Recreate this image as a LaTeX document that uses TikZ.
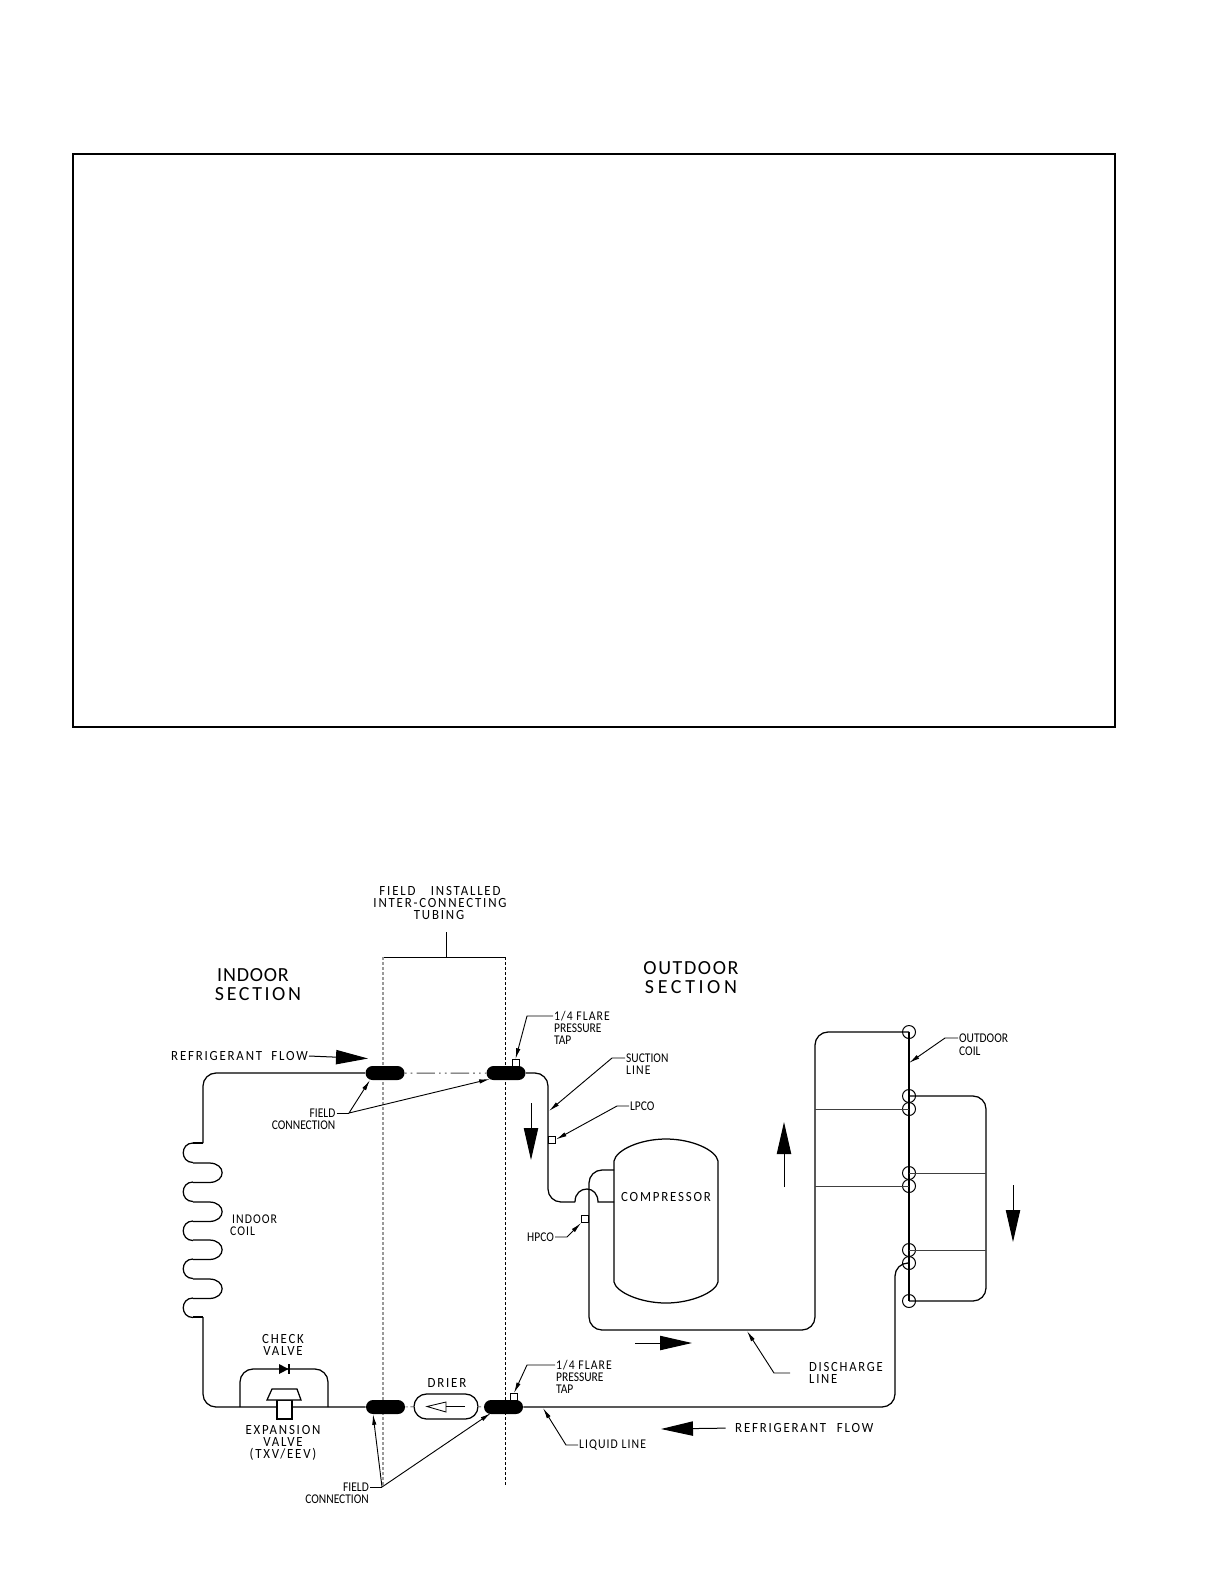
\documentclass[tikz,border=0pt]{standalone}
\usepackage{fontspec}
\setmainfont{Carlito}
\usetikzlibrary{arrows.meta,shapes.misc}
\tikzset{
    pipe/.style={line width=0.75pt},
    branch/.style={line width=0.6pt,black!75},
    lbl/.style={inner sep=0.6pt,font=\fontsize{8.4}{10}\selectfont\addfontfeature{LetterSpace=14},xscale=0.92,transform shape},
    lblmid/.style={inner sep=0.6pt,font=\fontsize{8}{10}\selectfont\addfontfeature{LetterSpace=9},xscale=0.88,transform shape},
    lbltight/.style={inner sep=0.6pt,font=\fontsize{8}{10}\selectfont,xscale=0.86,transform shape},
    lblbig/.style={inner sep=0pt,font=\fontsize{12}{14}\selectfont},
    pill/.style={shape=rounded rectangle,fill=black,inner sep=0pt,minimum width=23.4pt,minimum height=8.4pt},
    tapbox/.style={draw,fill=white,line width=0.5pt,inner sep=0pt,minimum width=4.2pt,minimum height=4.2pt},
    ring/.style={draw,circle,line width=0.6pt,inner sep=0pt,minimum size=7.8pt},
    leader/.style={line width=0.55pt,-{Latex[length=6.5pt,width=2.6pt]}},
    flowtip/.style={line width=0.6pt,-{Triangle[length=19.2pt,width=8.6pt]}}
}
\begin{document}
\begin{tikzpicture}[x=0.6pt,y=-0.6pt]
    \useasboundingbox (0,0) rectangle (1224,1584);
    \draw[line width=1.5pt] (73,154) rectangle (1115,727);

    % field installed tubing
    \node[lbl] (fieldA) at (440,891) {FIELD\hspace{7pt} INSTALLED};
    \node[lbl] (fieldB) at (440,903) {INTER-CONNECTING};
    \node[lbl] (fieldC) at (439,915) {TUBING};
    \draw[line width=0.6pt] (446,932) -- (446,957);
    \draw[line width=0.6pt] (383,957) -- (505,957);
    \draw[gray!80,line width=0.7pt,dash pattern=on 1.5pt off 1.5pt] (383,957) -- (383,1485);
    \draw[line width=0.6pt,dash pattern=on 1.5pt off 1.5pt] (505,957) -- (505,1485);

    \node[lblbig] (indoorA) at (253,975) {\addfontfeature{LetterSpace=4}INDOOR};
    \node[lblbig] (indoorB) at (258,994) {\addfontfeature{LetterSpace=13}SECTION};
    \node[lblbig] (outdoorA) at (691,968) {\addfontfeature{LetterSpace=8}OUTDOOR};
    \node[lblbig] (outdoorB) at (691,987) {\addfontfeature{LetterSpace=18}SECTION};

    % field connections
    \node[pill] (pillA) at (385,1073) {};
    \node[pill] (pillB) at (506,1073) {};
    \node[pill] (pillC) at (385.5,1407) {};
    \node[pill] (pillD) at (503.5,1407) {};
    \draw[line width=0.6pt,gray!60!black,dash pattern=on 1pt off 2.5pt on 1pt off 2.5pt on 11pt off 2.5pt on 1pt off 2.5pt on 1pt off 2.5pt on 11pt off 2.5pt] (pillA) -- (pillB);

    % upper pipe and indoor coil
    \draw[pipe,rounded corners=7.8pt] (203,1143) -- (203,1073) -- (pillA);
    \draw[pipe] (203,1143) -- (193,1143);
    \foreach \y in {1143,1182,1221,1259,1298} {
        \draw[pipe] (193,\y) .. controls (180,\y) and (180,\y+19.5) .. (193,\y+19.5);
    }
    \foreach \y in {1163,1202,1240,1279} {
        \draw[pipe] (193,\y) -- (209,\y) .. controls (226.5,\y) and (226.5,\y+19.5) .. (209,\y+19.5) -- (193,\y+19.5);
    }
    \draw[pipe] (193,1317) -- (203,1317);
    \draw[pipe,rounded corners=7.8pt] (203,1317) -- (203,1407) -- (pillC);
    \node[lblmid,anchor=west] (indoorcoilA) at (231,1219) {INDOOR};
    \node[lblmid,anchor=west] (indoorcoilB) at (229,1231) {COIL};

    % check valve and expansion valve
    \draw[pipe,rounded corners=7.8pt] (240,1407) -- (240,1369) -- (328,1369) -- (328,1407);
    \fill (279,1364) -- (288.5,1369) -- (279,1374) -- cycle;
    \draw[line width=0.7pt] (289,1364) -- (289,1374);
    \draw[pipe,fill=white] (277,1400) rectangle (292,1419);
    \draw[pipe,fill=white] (272,1389) -- (297,1389) -- (301,1400) -- (267,1400) -- cycle;
    \node[lbl] (checkA) at (283,1339) {CHECK};
    \node[lbl] (checkB) at (283,1351) {VALVE};
    \node[lbl] (expA) at (283,1430) {EXPANSION};
    \node[lbl] (expB) at (283,1442) {VALVE};
    \node[lbl] (expC) at (283,1454) {(TXV/EEV)};

    % drier
    \node[draw,pipe,shape=rounded rectangle,inner sep=0pt,minimum width=38.4pt,minimum height=15pt] (drier) at (446,1406.5) {};
    \draw[gray!80,line width=0.7pt,dash pattern=on 1.5pt off 1.5pt] (pillC) -- (drier);
    \draw[gray!80,line width=0.7pt,dash pattern=on 1.5pt off 1.5pt] (drier) -- (pillD);
    \draw[line width=0.5pt] (465,1406) -- (446,1406);
    \draw[line width=0.5pt] (446,1402) -- (427,1406.5) -- (446,1412) -- cycle;
    \node[lbl] (drierlabel) at (447,1383) {DRIER};

    % liquid line
    \draw[pipe,rounded corners=7.8pt] (pillD) -- (895,1407) -- (895,1263) -- (909,1263);

    % suction line
    \draw[pipe,rounded corners=7.8pt] (pillB) -- (548,1073) -- (548,1202) -- (575,1202);
    \draw[pipe] (575,1202) .. controls (575,1193) and (581,1189) .. (587,1189) .. controls (593,1189) and (598,1194) .. (598,1202) -- (614,1202);

    % compressor
    \draw[pipe] (614,1161) .. controls (616,1150) and (640,1139) .. (666,1139) .. controls (692,1139) and (716,1150) .. (718,1161) -- (718,1282) .. controls (716,1292) and (692,1303) .. (666,1303) .. controls (640,1303) and (616,1292) .. (614,1282) -- cycle;
    \node[lbl] (compressor) at (666,1197) {COMPRESSOR};

    % discharge line
    \draw[pipe,rounded corners=7.8pt] (614,1170) -- (589,1170) -- (589,1330) -- (815,1330) -- (815,1032) -- (909,1032);

    % outdoor coil
    \draw[pipe] (909,1032) -- (909,1301);
    \foreach \y/\n in {1032/1,1096/2,1109/3,1173/4,1186/5,1250/6,1263/7,1301/8} {
        \node[ring] (ring\n) at (909,\y) {};
    }
    \draw[branch] (815,1109) -- (ring3.center);
    \draw[branch] (815,1186) -- (ring5.center);
    \draw[pipe,rounded corners=7.8pt] (ring2.center) -- (986,1096) -- (986,1301) -- (ring8.center);
    \draw[branch] (ring4.center) -- (986,1173);
    \draw[branch] (ring6.center) -- (986,1250);

    % pressure taps
    \node[tapbox] (tapA) at (515.5,1063) {};
    \node[tapbox] (tapB) at (514,1397) {};
    \node[tapbox] (lpco) at (552,1139.5) {};
    \node[tapbox] (hpco) at (585,1219) {};

    % leaders
    \coordinate (tipA) at (370,1080);
    \coordinate (tipB) at (490,1079);
    \coordinate (tipC) at (373,1414);
    \coordinate (tipD) at (491,1413);
    \coordinate (tipsuction) at (549,1111);
    \coordinate (tipdischarge) at (747,1331);
    \coordinate (tipliquid) at (543,1408);
    \coordinate (tipoutdoor) at (909,1063);

    \node[lbltight,anchor=east] (connA) at (336.5,1113) {FIELD};
    \node[lbltight,anchor=east] (connB) at (336.5,1125) {CONNECTION};
    \draw[line width=0.55pt] (connA.east) -- (349,1113);
    \draw[leader] (349,1113) -- (tipA);
    \draw[leader] (349,1113) -- (tipB);

    \node[lbltight,anchor=east] (connC) at (370,1487) {FIELD};
    \node[lbltight,anchor=east] (connD) at (370,1499) {CONNECTION};
    \draw[line width=0.55pt] (connC.east) -- (382,1487);
    \draw[leader] (382,1487) -- (tipC);
    \draw[leader] (382,1487) -- (tipD);

    \node[lblmid,anchor=west] (flareA) at (553,1016) {1/4 FLARE};
    \node[lbltight,anchor=west] (flareB) at (553,1028) {PRESSURE};
    \node[lbltight,anchor=west] (flareC) at (553,1040) {TAP};
    \draw[leader] (flareA.west) -- (527,1016) -- (tapA.north);

    \node[lblmid,anchor=west] (flareD) at (555,1365) {1/4 FLARE};
    \node[lbltight,anchor=west] (flareE) at (555,1377) {PRESSURE};
    \node[lbltight,anchor=west] (flareF) at (555,1389) {TAP};
    \draw[leader] (flareD.west) -- (527,1365) -- (tapB.north);

    \node[lbltight,anchor=west] (suctionA) at (625,1058) {SUCTION};
    \node[lblmid,anchor=west] (suctionB) at (625,1070) {LINE};
    \draw[leader] (suctionA.west) -- (612,1058) -- (tipsuction);

    \node[lbltight,anchor=west] (lpcolabel) at (629,1106) {LPCO};
    \draw[leader] (lpcolabel.west) -- (617,1106) -- (lpco.east);

    \node[lbltight,anchor=east] (hpcolabel) at (555,1237) {HPCO};
    \draw[leader] (hpcolabel.east) -- (567,1237) -- (hpco.south west);

    \node[lbl,anchor=west,xscale=0.98] (dischargeA) at (808,1367) {DISCHARGE};
    \node[lbl,anchor=west,xscale=0.98] (dischargeB) at (808,1379) {LINE};
    \draw[leader] (790,1373) -- (774,1373) -- (tipdischarge);

    \node[lblmid,anchor=west] (liquid) at (578,1445) {LIQUID LINE};
    \draw[leader] (liquid.west) -- (566,1445) -- (tipliquid);

    \node[lbltight,anchor=west] (outdoorcoilA) at (958,1038) {OUTDOOR};
    \node[lbltight,anchor=west] (outdoorcoilB) at (958,1051) {COIL};
    \draw[leader] (outdoorcoilA.west) -- (945,1038) -- (tipoutdoor);

    % flow arrows
    \node[lbl,anchor=west] (flowA) at (170,1056) {REFRIGERANT\hspace{3pt} FLOW};
    \node[lbl,anchor=west] (flowB) at (734,1428) {REFRIGERANT\hspace{4pt} FLOW};
    \draw[flowtip] (flowA.east) -- (368,1058.5);
    \draw[flowtip,shorten <=5pt] (flowB.west) -- (661,1429);
    \draw[flowtip] (531,1103) -- (531,1160);
    \draw[flowtip] (784,1187) -- (784,1122);
    \draw[flowtip] (1013,1185) -- (1013,1242);
    \draw[flowtip] (635,1343) -- (692,1343);
\end{tikzpicture}
\end{document}
